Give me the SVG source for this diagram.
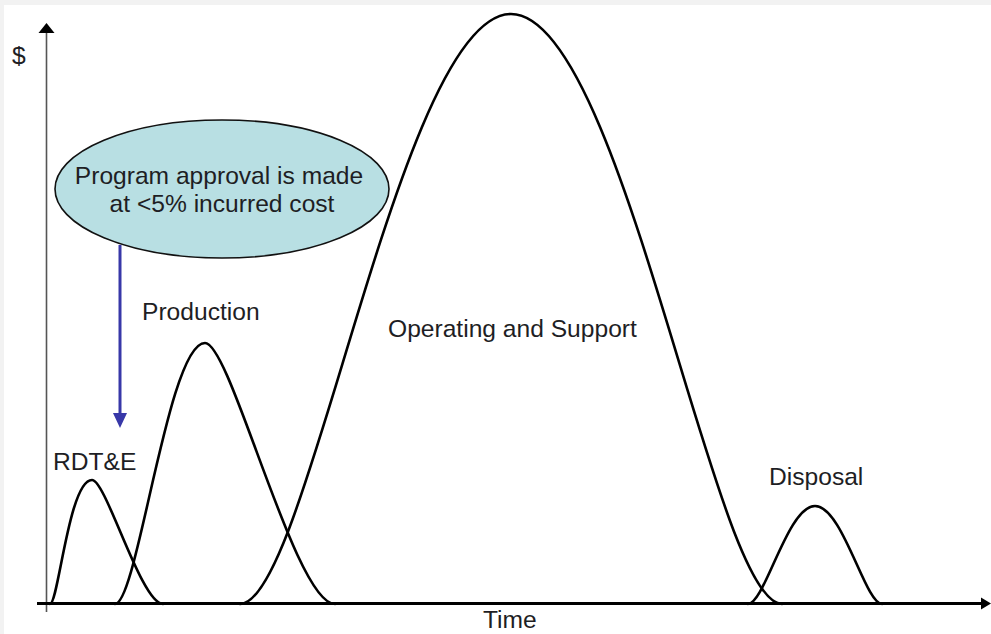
<svg xmlns="http://www.w3.org/2000/svg" width="991" height="634" viewBox="0 0 991 634">
  <style>
    .lbl { font-family: "Liberation Sans", Arial, sans-serif; font-size: 24.6px; fill: #1e1e24; }
    .curve { fill: none; stroke: #000; stroke-width: 2.6; stroke-linecap: round; }
    .axisY { stroke: #555; stroke-width: 1.6; fill: none; }
    .axisX { stroke: #000; stroke-width: 3; fill: none; }
  </style>
  <rect x="0" y="0" width="991" height="634" fill="#f2f2f2"/>
  <rect x="4" y="5" width="987" height="629" fill="#ffffff"/>

  <g id="axes">
    <line class="axisY" x1="46.5" y1="31" x2="46.5" y2="612"/>
    <polygon points="46.5,23 38.5,33 54.5,33" fill="#000"/>
    <line class="axisX" x1="37" y1="603.5" x2="983" y2="603.5"/>
    <polygon points="991,603.5 981,597.5 981,609.5" fill="#000"/>
    <text class="lbl" x="12" y="64" font-size="20">$</text>
    <text class="lbl" x="483" y="628">Time</text>
  </g>

  <g id="curves">
    <path id="rdte-curve" class="curve" d="M50,604 C58.4,604 68.9,480 92,480 C106.2,480 141.1,604 163,604"/>
    <path id="production-curve" class="curve" d="M115,604 C137.6,604 167.9,343 205,343 C231,343 294.8,604 335,604"/>
    <path id="os-curve" class="curve" d="M240,604 C308,604 399.3,14 511,14 C622.7,14 714,604 782,604"/>
    <path id="disposal-curve" class="curve" d="M748,604 C764.8,604 787.4,506 815,506 C842.6,506 865.2,604 882,604"/>
  </g>

  <g id="rdte-label"><text class="lbl" x="53" y="470">RDT&amp;E</text></g>
  <g id="production-label"><text class="lbl" x="142" y="320">Production</text></g>
  <g id="os-label"><text class="lbl" x="388" y="337">Operating and Support</text></g>
  <g id="disposal-label"><text class="lbl" x="769" y="485">Disposal</text></g>

  <g id="approval-node">
    <ellipse cx="222" cy="189" rx="167" ry="69" fill="#b8dfe3" stroke="#111" stroke-width="1.6"/>
    <text class="lbl" x="219" y="184" text-anchor="middle">Program approval is made</text>
    <text class="lbl" x="222" y="212" text-anchor="middle">at &lt;5% incurred cost</text>
  </g>

  <g id="connectors">
    <line x1="120" y1="245" x2="120" y2="416" stroke="#3838a8" stroke-width="3"/>
    <polygon points="120,428 113,413 127,413" fill="#3838a8"/>
  </g>
</svg>
